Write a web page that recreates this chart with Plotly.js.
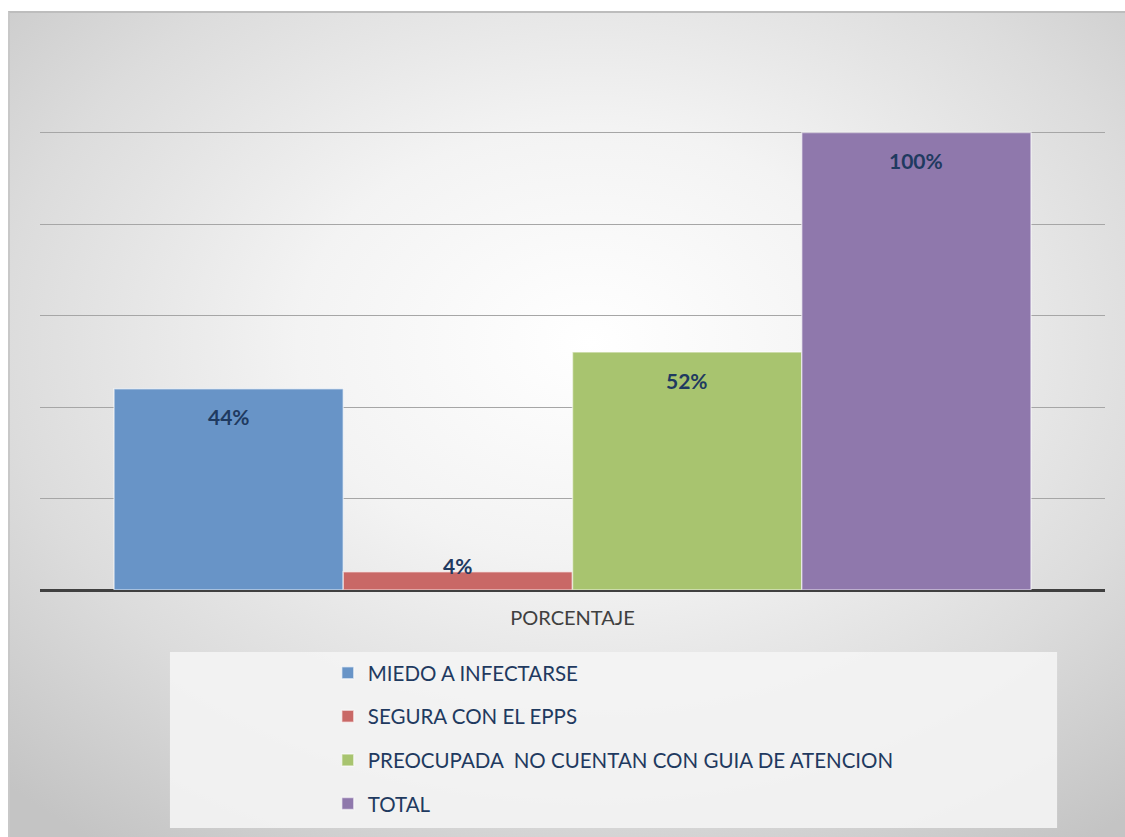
<!DOCTYPE html>
<html><head><meta charset="utf-8">
<script src="https://cdn.plot.ly/plotly-3.0.1.min.js"></script>
<style>
html,body{margin:0;padding:0;background:#ffffff;}
#bg{position:absolute;left:8px;top:11px;width:1117px;height:826px;
 background:radial-gradient(ellipse 75% 75% at 52% 40%, #ffffff 0%, #f3f3f3 35%, #dcdcdc 70%, #c4c4c4 100%);
 border-top:2px solid #bdbdbd;border-left:2px solid #c8c8c8;box-sizing:border-box;}
#chart{position:absolute;left:0;top:0;width:1125px;height:837px;}
</style></head>
<body>
<div id="bg"></div>
<div id="chart"></div>
<script>
const category = ['PORCENTAJE'];
const seriesNames = ['MIEDO A INFECTARSE', 'SEGURA CON EL EPPS', 'PREOCUPADA  NO CUENTAN CON GUIA DE ATENCION', 'TOTAL'];
const seriesValues = [0.44, 0.04, 0.52, 1.00];
const seriesLabels = ['44%', '4%', '52%', '100%'];
const colors = ['#6894c7', '#c96866', '#a8c46f', '#8f78ac'];

const bargap = 0.139;
const plotW = 1065;
const barPx = plotW * (1 - bargap) / seriesNames.length;

const traces = seriesNames.map((n, i) => ({
  type: 'bar', name: n, x: category, y: [seriesValues[i]],
  marker: {color: colors[i], line: {color: 'rgba(255,255,255,0.55)', width: 1.5}},
  legendgroup: 'g' + i,
  hoverinfo: 'none'
}));

const annotations = seriesNames.map((n, i) => {
  const small = seriesValues[i] < 0.1;
  return {
    x: category[0], y: seriesValues[i], xref: 'x', yref: 'y',
    text: '<b>' + seriesLabels[i] + '</b>', showarrow: false,
    xshift: (i - (seriesNames.length - 1) / 2) * barPx,
    yshift: small ? 6 : -28, yanchor: 'middle',
    font: {family: 'Lato, "Open Sans", sans-serif', size: 21, color: '#1f3a60'}
  };
});

const layout = {
  width: 1125, height: 837,
  paper_bgcolor: 'rgba(0,0,0,0)', plot_bgcolor: 'rgba(0,0,0,0)',
  margin: {l: 40, r: 20, t: 41, b: 247, autoexpand: false},
  barmode: 'group', bargap: bargap, bargroupgap: 0,
  showlegend: true,
  font: {family: 'Lato, "Open Sans", sans-serif'},
  xaxis: {showgrid: false, showline: false, ticks: '', zeroline: false, ticklabelstandoff: 14,
    tickfont: {size: 20, color: '#404040'}, fixedrange: true},
  yaxis: {range: [0, 1.2], dtick: 0.2, showticklabels: false, ticks: '',
    gridcolor: '#a6a6a6', gridwidth: 1, zeroline: true, zerolinecolor: '#404040', zerolinewidth: 3,
    showline: false, fixedrange: true},
  legend: {x: 0.2702, xanchor: 'left', y: -0.1144, yanchor: 'top',
    bgcolor: 'rgba(0,0,0,0)', traceorder: 'grouped', tracegroupgap: 14,
    font: {size: 20.5, color: '#1f3a60'}},
  annotations: annotations,
  shapes: [{type: 'rect', xref: 'paper', yref: 'paper', x0: 0.122, x1: 0.955, y0: -0.4335, y1: -0.1129,
    fillcolor: 'rgba(244,244,244,0.9)', line: {width: 0}, layer: 'below'}]
};

Plotly.newPlot('chart', traces, layout, {displayModeBar: false, staticPlot: true});
</script>
</body></html>
